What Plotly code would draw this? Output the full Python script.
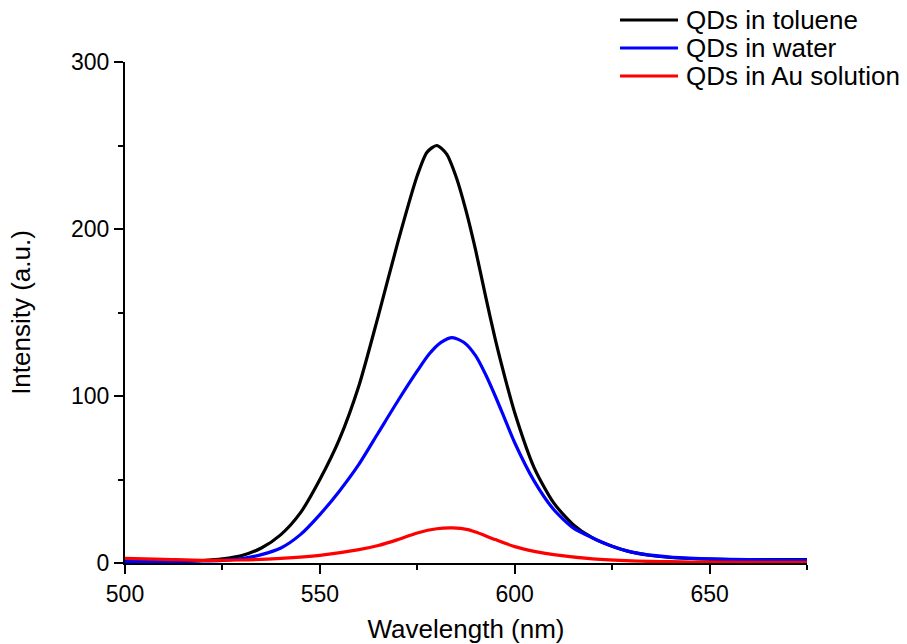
import plotly.graph_objects as go

# Photoluminescence spectra of the quantum dots
wl_toluene = [500, 505, 510, 515, 520, 525, 530, 535, 540, 545, 550, 555, 560, 565, 570, 575, 577.5,
              580, 582.5, 585, 587.5, 590, 592.5, 595, 597.5, 600, 605, 610, 615, 620, 625, 630,
              635, 640, 645, 650, 660, 675]
int_toluene = [0.5, 0.6, 0.8, 1.0, 1.5, 2.5, 4.5, 9, 17, 30, 50, 74, 106, 148, 192, 232, 246,
               250, 245, 231, 211, 187, 160, 134, 111, 90, 57, 36, 23, 15, 10, 6.5,
               4.5, 3.3, 2.7, 2.3, 2.0, 2.0]

wl_water = [500, 510, 520, 525, 530, 535, 540, 545, 550, 555, 560, 565, 570, 575, 578, 581, 584,
            587, 590, 592.5, 595, 597.5, 600, 605, 610, 615, 620, 625, 630, 640, 650, 660, 675]
int_water = [0.8, 0.8, 1.2, 1.6, 2.6, 5, 9, 17, 29, 43, 59, 78, 97, 115, 125, 132, 135,
             132, 124, 113, 100, 86, 72, 49, 32, 21, 15, 10, 6.5, 3.5, 2.5, 2.0, 1.8]

wl_au = [500, 510, 520, 530, 540, 550, 560, 565, 570, 575, 580, 584, 588, 590, 595, 600,
         605, 610, 620, 630, 640, 650, 675]
int_au = [2.8, 2.2, 1.6, 1.8, 2.8, 4.6, 8, 10.5, 14, 18, 20.5, 21, 20, 18.5, 14, 9.8,
          7, 5, 2.5, 1.3, 0.8, 0.5, 0.4]

names = ["QDs in toluene", "QDs in water", "QDs in Au solution"]
colors = ["#000000", "#0000ff", "#ff0000"]
series = [(wl_toluene, int_toluene), (wl_water, int_water), (wl_au, int_au)]

x_ticks = [500, 550, 600, 650]
y_ticks = [0, 100, 200, 300]

FONT = "Liberation Sans, Arial, sans-serif"

fig = go.Figure()
for (x, y), name, c in zip(series, names, colors):
    fig.add_trace(go.Scatter(x=x, y=y, mode="lines", name=name,
                             line=dict(color=c, width=3.2, shape="spline", smoothing=0.7),
                             showlegend=False))

# Legend drawn as line samples plus labels at the top right
leg_y = [1.0838, 1.0279, 0.9721]
for name, c, yy in zip(names, colors, leg_y):
    fig.add_shape(type="line", xref="paper", yref="paper", x0=0.7258, x1=0.8109,
                  y0=yy, y1=yy, line=dict(color=c, width=3.2))
    fig.add_annotation(xref="paper", yref="paper", x=0.8190, y=yy, text=name,
                       showarrow=False, xanchor="left", yanchor="middle",
                       font=dict(family=FONT, size=26, color="#000"))

axis_common = dict(showgrid=False, zeroline=False, showline=True, linecolor="#000",
                   linewidth=2, ticks="outside", ticklen=9, tickwidth=2, tickcolor="#000",
                   tickfont=dict(family=FONT, size=23, color="#000"), automargin=False,
                   minor=dict(ticks="outside", ticklen=5, tickwidth=2, tickcolor="#000"))

fig.update_xaxes(range=[500, 675], tickvals=x_ticks, ticktext=[str(v) for v in x_ticks],
                 minor_dtick=25, minor_tick0=500,
                 title=dict(text="Wavelength (nm)", font=dict(family=FONT, size=26, color="#000"),
                            standoff=22),
                 **axis_common)
fig.update_yaxes(range=[0, 300], tickvals=y_ticks, ticktext=[str(v) for v in y_ticks],
                 minor_dtick=50, minor_tick0=0,
                 title=dict(text="Intensity (a.u.)", font=dict(family=FONT, size=26, color="#000"),
                            standoff=33),
                 **axis_common)

fig.update_layout(width=907, height=644, autosize=False,
                  margin=dict(l=125, r=100, t=62, b=81, autoexpand=False),
                  plot_bgcolor="white", paper_bgcolor="white",
                  font=dict(family=FONT, color="#000"))

fig.write_html("out.html")
